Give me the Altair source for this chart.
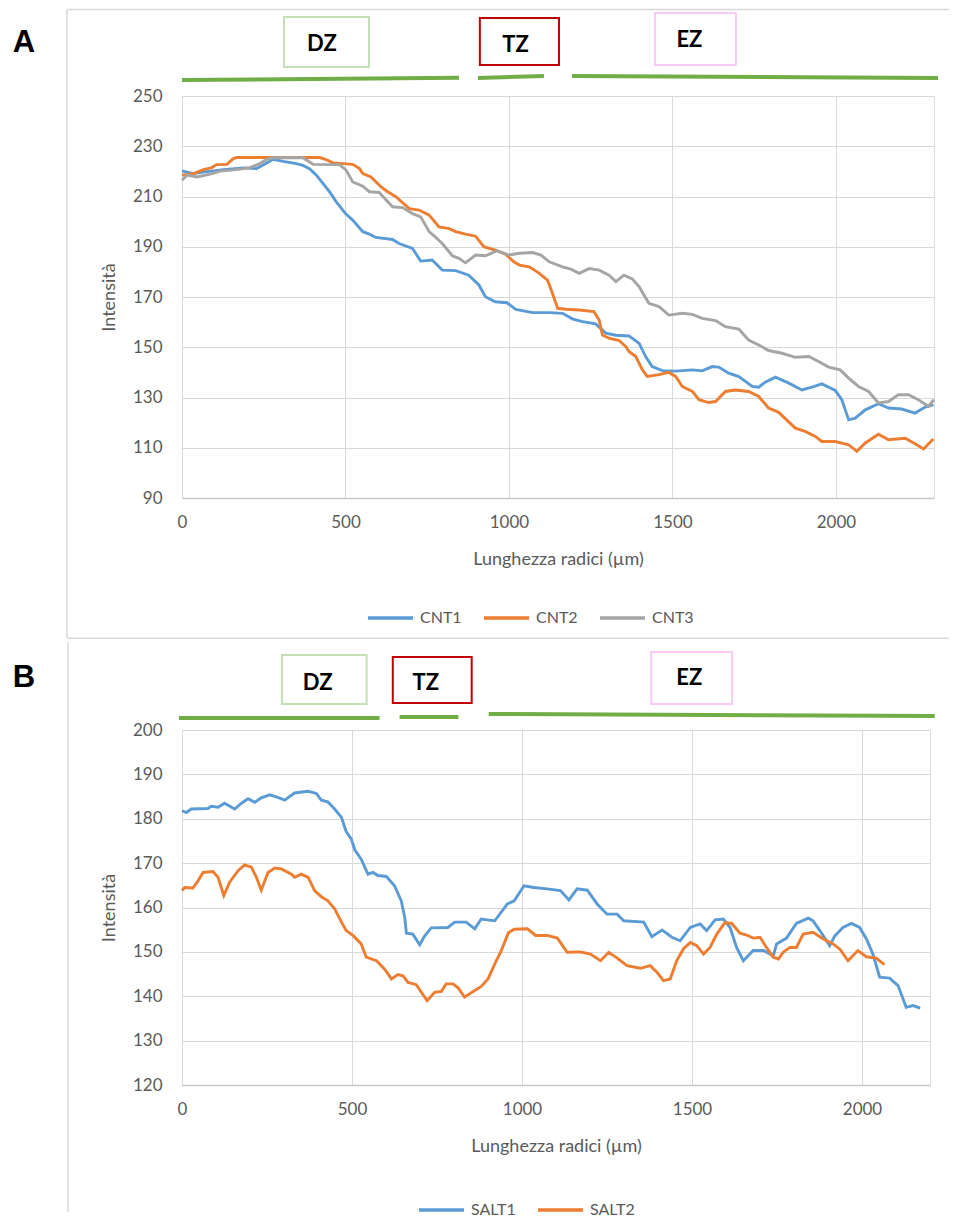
import altair as alt
import pandas as pd

# ---------------- data ----------------
cnt1_x = [0, 35, 70, 127, 188, 228, 248, 279, 309, 350, 370, 390, 411, 431, 451, 472, 500, 522, 553, 573,
          593, 644, 664, 705, 730, 765, 796, 837, 877, 908, 928, 958, 994, 1021, 1072, 1123, 1164, 1194,
          1225, 1265, 1296, 1327, 1367, 1398, 1418, 1438, 1469, 1510, 1561, 1591, 1622, 1642, 1672, 1703,
          1744, 1764, 1784, 1815, 1856, 1896, 1927, 1957, 1998, 2018, 2039, 2059, 2090, 2130, 2161, 2201,
          2242, 2273, 2298]
cnt1_y = [220.2, 219.1, 219.8, 220.7, 221.4, 221.1, 222.5, 224.8, 224.0, 223.1, 222.4, 221.1, 218.5, 215.2,
          211.9, 207.9, 203.2, 200.6, 196.0, 195.0, 193.7, 192.9, 191.3, 189.3, 184.3, 184.7, 180.7, 180.5,
          178.7, 174.8, 170.1, 168.1, 167.7, 165.1, 163.8, 163.8, 163.5, 161.3, 160.2, 159.3, 155.6, 154.8,
          154.5, 151.6, 146.3, 142.3, 140.7, 140.5, 141.0, 140.6, 142.3, 142.1, 139.7, 138.3, 134.4, 134.1,
          136.1, 138.1, 135.7, 133.0, 134.1, 135.4, 132.8, 129.1, 121.1, 121.8, 125.1, 127.5, 125.8, 125.4,
          123.8, 126.2, 127.1]

cnt2_x = [0, 35, 66, 91, 106, 137, 157, 167, 421, 441, 462, 522, 543, 553, 578, 609, 629, 654, 695, 725,
          756, 786, 817, 837, 867, 898, 923, 958, 989, 1015, 1032, 1062, 1093, 1118, 1133, 1149, 1174, 1215,
          1260, 1276, 1286, 1306, 1337, 1357, 1367, 1388, 1408, 1423, 1459, 1489, 1510, 1530, 1561, 1581,
          1611, 1632, 1662, 1693, 1733, 1764, 1794, 1825, 1876, 1906, 1937, 1957, 1998, 2039, 2064, 2090,
          2130, 2161, 2212, 2242, 2268, 2298]
cnt2_y = [218.5, 219.1, 220.7, 221.5, 222.7, 222.8, 225.1, 225.5, 225.5, 224.7, 223.4, 222.8, 221.1, 219.1,
          217.8, 213.8, 211.9, 209.9, 205.2, 204.6, 202.6, 197.9, 197.2, 196.0, 195.0, 194.2, 190.0, 188.7,
          187.1, 184.0, 182.7, 182.0, 179.4, 176.7, 171.5, 165.5, 165.1, 164.8, 164.2, 160.8, 154.9, 153.6,
          152.7, 150.3, 148.3, 146.3, 141.0, 138.4, 139.1, 140.0, 138.4, 134.4, 132.4, 129.1, 128.0, 128.4,
          132.4, 133.0, 132.4, 130.4, 125.8, 124.1, 117.8, 116.5, 114.5, 112.5, 112.5, 111.2, 108.6, 111.9,
          115.4, 113.2, 113.8, 111.6, 109.5, 113.5]

cnt3_x = [0, 15, 46, 86, 117, 167, 208, 238, 259, 279, 370, 401, 482, 502, 522, 553, 573, 603, 644, 675,
          705, 730, 756, 776, 796, 827, 847, 867, 898, 928, 964, 1000, 1032, 1072, 1098, 1123, 1164, 1189,
          1215, 1245, 1276, 1306, 1327, 1352, 1377, 1398, 1428, 1459, 1489, 1530, 1561, 1591, 1632, 1662,
          1703, 1733, 1764, 1794, 1835, 1876, 1917, 1947, 1978, 2013, 2039, 2069, 2100, 2130, 2161, 2191,
          2222, 2252, 2283, 2300]
cnt3_y = [216.5, 218.5, 217.8, 218.9, 220.1, 220.7, 221.5, 223.1, 224.8, 225.4, 225.4, 222.8, 222.7, 220.5,
          215.8, 214.1, 211.9, 211.6, 205.9, 205.6, 203.2, 201.9, 196.0, 193.7, 191.3, 186.4, 185.4, 183.6,
          186.7, 186.4, 188.4, 186.7, 187.4, 187.7, 186.7, 184.0, 182.0, 181.1, 179.4, 181.3, 180.7, 178.7,
          176.1, 178.7, 177.2, 174.1, 167.5, 166.2, 162.8, 163.5, 163.1, 161.5, 160.6, 158.2, 157.2, 152.9,
          150.9, 148.7, 147.6, 146.0, 146.3, 144.3, 142.1, 141.0, 137.7, 134.4, 132.4, 127.8, 128.4, 131.1,
          131.1, 129.1, 126.5, 129.1]

salt1_x = [0, 13, 27, 76, 86, 106, 125, 155, 175, 194, 214, 233, 258, 282, 302, 331, 371, 395, 410, 429,
           449, 469, 483, 498, 508, 527, 547, 562, 576, 601, 625, 645, 655, 660, 679, 699, 714, 733, 782,
           802, 836, 861, 880, 920, 957, 977, 1006, 1035, 1074, 1113, 1138, 1162, 1192, 1221, 1250, 1280,
           1299, 1358, 1382, 1412, 1441, 1465, 1495, 1524, 1543, 1568, 1592, 1612, 1631, 1651, 1680, 1710,
           1739, 1749, 1778, 1807, 1842, 1856, 1876, 1905, 1920, 1944, 1969, 1993, 2013, 2032, 2052, 2081,
           2106, 2130, 2150, 2171]
salt1_y = [181.8, 181.4, 182.2, 182.3, 182.8, 182.6, 183.5, 182.2, 183.5, 184.5, 183.7, 184.7, 185.4, 184.8,
           184.2, 185.8, 186.2, 185.7, 184.2, 183.8, 182.2, 180.3, 177.1, 175.4, 173.0, 170.9, 167.5, 167.9,
           167.2, 167.0, 164.9, 161.5, 157.8, 154.2, 154.0, 151.6, 153.6, 155.4, 155.5, 156.7, 156.7, 155.2,
           157.4, 157.0, 160.8, 161.5, 164.9, 164.5, 164.2, 163.8, 161.7, 164.2, 163.9, 160.8, 158.5, 158.5,
           157.0, 156.7, 153.4, 154.9, 153.3, 152.5, 155.5, 156.3, 154.8, 157.2, 157.4, 155.5, 151.0, 148.0,
           150.3, 150.3, 149.1, 151.8, 153.1, 156.4, 157.6, 157.0, 154.8, 151.4, 153.6, 155.5, 156.4, 155.5,
           152.9, 149.5, 144.3, 144.1, 142.4, 137.5, 137.9, 137.3]

salt2_x = [0, 8, 32, 47, 62, 91, 106, 123, 140, 165, 184, 204, 219, 233, 253, 273, 292, 322, 331, 351, 371,
           390, 410, 429, 449, 469, 483, 503, 527, 542, 572, 596, 616, 635, 650, 665, 689, 704, 721, 743,
           763, 777, 797, 812, 831, 861, 880, 900, 920, 939, 960, 977, 1016, 1040, 1074, 1104, 1133, 1172,
           1201, 1231, 1255, 1280, 1309, 1348, 1377, 1397, 1416, 1436, 1455, 1475, 1495, 1514, 1534, 1553,
           1573, 1597, 1617, 1641, 1661, 1680, 1700, 1719, 1739, 1754, 1768, 1788, 1807, 1827, 1856, 1886,
           1915, 1935, 1959, 1988, 2013, 2042, 2066]
salt2_y = [163.8, 164.5, 164.4, 166.0, 167.9, 168.1, 166.8, 162.7, 165.7, 168.3, 169.6, 169.1, 166.8, 163.9,
           167.9, 168.9, 168.7, 167.5, 166.8, 167.5, 166.8, 163.8, 162.4, 161.5, 159.7, 156.7, 154.8, 153.7,
           151.8, 148.8, 148.0, 146.1, 143.9, 144.9, 144.6, 143.1, 142.6, 140.9, 139.0, 140.9, 141.1, 142.8,
           142.8, 141.9, 139.8, 141.3, 142.2, 143.9, 147.3, 150.3, 154.3, 155.1, 155.2, 153.7, 153.7, 153.1,
           149.9, 150.0, 149.5, 148.0, 149.9, 148.6, 146.9, 146.3, 146.9, 145.4, 143.5, 143.9, 148.0, 150.7,
           152.1, 151.4, 149.5, 151.0, 154.0, 156.6, 156.4, 154.2, 153.8, 153.1, 153.3, 151.0, 148.8, 148.4,
           149.9, 151.0, 151.0, 154.0, 154.4, 152.9, 151.8, 150.6, 148.0, 150.3, 148.9, 148.6, 147.1]

series_a = ["CNT1", "CNT2", "CNT3"]
series_b = ["SALT1", "SALT2"]

zone_labels = ["DZ", "TZ", "EZ"]
# zone boxes and green bars, in µm along the root
zone_a_start = [312, 911, 1447]
zone_a_end = [572, 1153, 1694]
zone_a_text = [428, 1020, 1552]
bar_a_start = [0, 905, 1193]
bar_a_end = [847, 1107, 2312]

zone_b_start = [294, 620, 1380]
zone_b_end = [543, 852, 1618]
zone_b_text = [399, 717, 1492]
bar_b_start = [-9, 640, 902]
bar_b_end = [581, 813, 2214]

x_ticks = [0, 500, 1000, 1500, 2000]
y_ticks_a = [90, 110, 130, 150, 170, 190, 210, 230, 250]
y_ticks_b = [120, 130, 140, 150, 160, 170, 180, 190, 200]

# ---------------- styles ----------------
FONT = "Lato"
GREY = "#595959"
LINE_COLORS = ["#5b9bd5", "#ed7d31", "#a5a5a5"]
ZONE_STROKES = ["#c5e0b4", "#c00000", "#f9c9f7"]
GREEN = "#70ad47"
FRAME = "#d9d9d9"


def long_df(names, xs, ys):
    rows = []
    for n, xv, yv in zip(names, xs, ys):
        for a, b in zip(xv, yv):
            rows.append({"serie": n, "x": a, "y": b})
    return pd.DataFrame(rows)


def one():
    return pd.DataFrame({"k": [0]})


def panel(df, names, colors, xmax, yticks, width, height, letter, letter_xy,
          z_start, z_end, z_text, box_y, text_y, b_start, b_end, bar_y,
          pin, frame_rules, legend_xy):
    xscale = alt.Scale(domain=[0, xmax], nice=False, zero=False)
    layers = []
    # nearly invisible rectangle that fixes the panel's extent
    layers.append(alt.Chart(one()).mark_rect(fill="white", fillOpacity=0.01, strokeWidth=0).encode(
        x=alt.value(pin[0]), x2=alt.value(pin[1]), y=alt.value(pin[2]), y2=alt.value(pin[3])))
    # panel frame
    for (x1, x2, y1, y2) in frame_rules:
        layers.append(alt.Chart(one()).mark_rule(color=FRAME, strokeWidth=1.5).encode(
            x=alt.value(x1), x2=alt.value(x2), y=alt.value(y1), y2=alt.value(y2)))
    # panel letter
    layers.append(alt.Chart(pd.DataFrame({"t": [letter]})).mark_text(
        font="Liberation Sans", fontSize=31, fontWeight="bold", color="black",
        align="center", baseline="middle").encode(
        text="t:N", x=alt.value(letter_xy[0]), y=alt.value(letter_xy[1])))
    # data lines
    lines = alt.Chart(df).mark_line(strokeWidth=2.9).encode(
        x=alt.X("x:Q", scale=xscale,
                axis=alt.Axis(values=x_ticks, format="d", title="Lunghezza radici (µm)", grid=True,
                              ticks=False, domain=True, domainColor="#c8c8c8", domainWidth=1.5,
                              labelFlush=False, labelFontSize=17, labelColor=GREY, labelFont=FONT,
                              labelPadding=16, titleFont=FONT, titleFontSize=18,
                              titleFontWeight="normal", titleColor=GREY, titlePadding=20,
                              gridColor=FRAME)),
        y=alt.Y("y:Q", scale=alt.Scale(domain=[yticks[0], yticks[-1]], nice=False, zero=False),
                axis=alt.Axis(values=yticks, format="d", title="Intensità", grid=True, ticks=False,
                              domain=False, labelFlush=False, labelFontSize=17, labelColor=GREY,
                              labelFont=FONT, labelPadding=20, titleFont=FONT, titleFontSize=18,
                              titleFontWeight="normal", titleColor=GREY, titlePadding=14,
                              gridColor=FRAME)),
        color=alt.Color("serie:N", scale=alt.Scale(domain=names, range=colors),
                        legend=alt.Legend(orient="none", legendX=legend_xy[0], legendY=legend_xy[1],
                                          direction="horizontal", title=None, symbolType="stroke",
                                          symbolSize=2025, symbolStrokeWidth=3.5, clipHeight=16,
                                          labelFontSize=16, labelFont=FONT, labelColor=GREY,
                                          columnPadding=20, labelOffset=5, padding=0)),
        order="x:Q",
    )
    layers.append(lines)
    # green zone bars
    for i in range(3):
        d = pd.DataFrame({"s": [b_start[i]], "e": [b_end[i]]})
        layers.append(alt.Chart(d).mark_rule(color=GREEN, strokeWidth=4, clip=False).encode(
            x=alt.X("s:Q", scale=xscale), x2="e:Q",
            y=alt.value(bar_y[i][0]), y2=alt.value(bar_y[i][1])))
    # zone boxes + labels
    for i in range(3):
        d = pd.DataFrame({"s": [z_start[i]], "e": [z_end[i]], "c": [z_text[i]], "lab": [zone_labels[i]]})
        layers.append(alt.Chart(d).mark_rect(fill="white", stroke=ZONE_STROKES[i], strokeWidth=2,
                                             clip=False).encode(
            x=alt.X("s:Q", scale=xscale), x2="e:Q",
            y=alt.value(box_y[i][0]), y2=alt.value(box_y[i][1])))
        layers.append(alt.Chart(d).mark_text(font=FONT, fontSize=22, fontWeight="bold", color="black",
                                             align="center", baseline="middle", clip=False).encode(
            x=alt.X("c:Q", scale=xscale), y=alt.value(text_y[i]), text="lab:N"))
    return alt.layer(*layers).properties(width=width, height=height)


df_a = long_df(series_a, [cnt1_x, cnt2_x, cnt3_x], [cnt1_y, cnt2_y, cnt3_y])
df_b = long_df(series_b, [salt1_x, salt2_x], [salt1_y, salt2_y])

chart_a = panel(
    df_a, series_a, LINE_COLORS, 2300, y_ticks_a, 752, 402, "A", (-158, -53),
    zone_a_start, zone_a_end, zone_a_text,
    [(-79, -29), (-78, -31), (-83, -31)], [-52.5, -51.5, -56],
    bar_a_start, bar_a_end, [(-16, -18.3), (-18, -20), (-20, -18)],
    pin=(-173, 767, -88, 543),
    frame_rules=[(-115, 767, -86.5, -86.5), (-115, -115, -86.5, 542), (-115, 767, 542.25, 542.25)],
    legend_xy=(184, 514),
)

chart_b = panel(
    df_b, series_b, LINE_COLORS[:2], 2200, y_ticks_b, 748, 355, "B", (-158, -52),
    zone_b_start, zone_b_end, zone_b_text,
    [(-75, -26), (-73, -27), (-78, -26)], [-47, -47, -52],
    bar_b_start, bar_b_end, [(-12, -12), (-13, -13), (-16, -14)],
    pin=(-173, 766, -89, 482),
    frame_rules=[(-114, -114, -88, 482)],
    legend_xy=(235, 472),
)

chart = (
    alt.vconcat(chart_a, chart_b, spacing=0)
    .resolve_scale(color="independent")
    .resolve_legend(color="independent")
    .properties(padding={"left": 0, "top": -1, "right": 0, "bottom": 0})
    .configure_view(stroke=None)
    .configure(font=FONT)
)

chart.save("out.html", embed_options={"renderer": "svg", "actions": False})
